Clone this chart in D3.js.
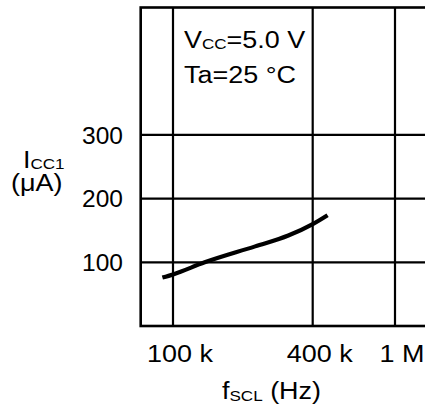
<!DOCTYPE html>
<html><head><meta charset="utf-8">
<script src="https://cdn.jsdelivr.net/npm/d3@7"></script>
<style>
html,body{margin:0;padding:0;background:#fff;}
text{font-family:"Liberation Sans",Arial,Helvetica,sans-serif;fill:#000;}
</style></head>
<body>
<svg id="c" width="425" height="413"></svg>
<script>
// Data
const freqHz = [90e3, 100e3, 137e3, 226e3, 314e3, 400e3, 472e3];
const iccUA  = [76, 81, 100, 125, 142, 160, 174];
const xTickValues = [100e3, 400e3, 1e6];
const xTickLabels = ["100 k", "400 k", "1 M"];
const yTickValues = [100, 200, 300];
const yTickLabels = ["100", "200", "300"];

const svg = d3.select("#c");
const fs = 24.5, sub = 15.5, sx = 1.1;

const x = d3.scaleLog().domain([100e3, 400e3, 1e6]).range([173, 312.7, 395]);
const xLeft = 140.7, xRight = 432;
const y = d3.scaleLinear().domain([0, 500]).range([326, 7.5]);

// horizontal gridlines
svg.append("g").selectAll("line").data(yTickValues).join("line")
  .attr("x1", xLeft).attr("x2", xRight)
  .attr("y1", d => y(d)).attr("y2", d => y(d))
  .attr("stroke", "#000").attr("stroke-width", 2.2);
// vertical gridlines
svg.append("g").selectAll("line").data(xTickValues).join("line")
  .attr("x1", d => x(d)).attr("x2", d => x(d))
  .attr("y1", y(500)).attr("y2", y(0))
  .attr("stroke", "#000").attr("stroke-width", 2.2);
// frame
svg.append("rect").attr("x", xLeft).attr("y", y(500))
  .attr("width", xRight - xLeft).attr("height", y(0) - y(500))
  .attr("fill", "none").attr("stroke", "#000").attr("stroke-width", 2.6);

// curve
const line = d3.line().x((d, i) => x(freqHz[i])).y(d => y(d)).curve(d3.curveMonotoneX);
svg.append("path").attr("d", line(iccUA))
  .attr("fill", "none").attr("stroke", "#000").attr("stroke-width", 4.2);

// helper: horizontally stretched text
function txt(px, py) {
  return svg.append("text").attr("transform", `translate(${px},${py}) scale(${sx},1)`)
    .attr("font-size", fs);
}

// y tick labels
svg.append("g").selectAll("text").data(yTickValues).join("text")
  .attr("x", 123).attr("y", d => y(d) + 8.8)
  .attr("text-anchor", "end").attr("font-size", fs)
  .text((d, i) => yTickLabels[i]);
// x tick labels
svg.append("g").selectAll("text").data(xTickValues).join("text")
  .attr("transform", d => `translate(${x(d) + 7},361.7) scale(${sx},1)`)
  .attr("text-anchor", "middle").attr("font-size", fs)
  .text((d, i) => xTickLabels[i]);

// y axis title
const yt = txt(23, 167.5);
yt.append("tspan").text("I");
yt.append("tspan").attr("font-size", sub).attr("dy", 1.5).text("CC1");
txt(11, 191).text("(\u03BCA)");

// x axis title
const xt = txt(222, 399.3);
xt.append("tspan").text("f");
xt.append("tspan").attr("font-size", sub).attr("dy", 2).text("SCL");
xt.append("tspan").attr("dy", -2).text(" (Hz)");

// annotation
const a1 = txt(184, 48.3);
a1.append("tspan").text("V");
a1.append("tspan").attr("font-size", sub).attr("dy", 1).text("CC");
a1.append("tspan").attr("dy", -1).text("=5.0 V");
txt(184, 83).text("Ta=25 \u00B0C");
</script>
</body></html>
